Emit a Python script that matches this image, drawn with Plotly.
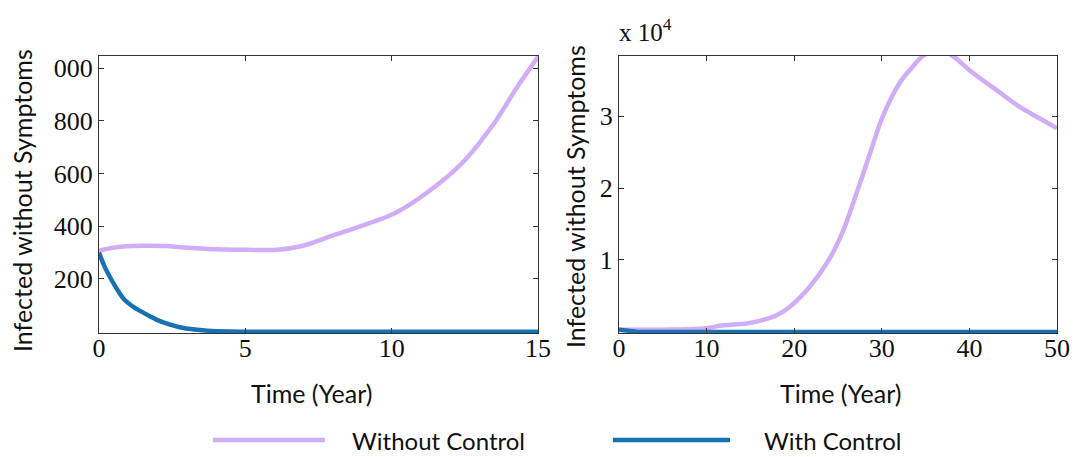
import plotly.graph_objects as go

# ---- data ----
t_left_wo = [0, 0.45, 0.9, 1.5, 2.3, 2.8, 3.7, 5.0, 6.1, 6.9, 8.0, 9.2, 10.1, 11.25, 12.4, 13.5, 14.3, 15.0]
v_left_wo = [307, 318, 324, 326, 325, 320, 314, 311, 311, 324, 365, 410, 449, 531, 639, 791, 930, 1043]
t_left_w = [0, 0.2, 0.43, 0.65, 0.88, 1.15, 1.45, 1.75, 2.0, 2.4, 2.8, 3.2, 3.7, 4.5, 6, 10, 15]
v_left_w = [300, 245, 196, 155, 120, 96, 76, 58, 44, 28, 16, 9, 4, 1, 0, 0, 0]

t_right_wo = [0, 5, 10, 11.5, 14.9, 17.9, 19.4, 21.7, 24.0, 25.5, 27.0, 28.6, 30.1, 32.0, 33.5, 34.7,
              36.4, 38.1, 40.0, 43.1, 45.7, 48.0, 50.0]
v_right_wo = [300, 310, 500, 870, 1245, 2260, 3410, 6180, 10100, 13790, 18850, 24620, 29920, 34530, 36830, 38350,
              39300, 38350, 36380, 33610, 31300, 29690, 28310]
t_right_w = [0, 2, 4, 10, 20, 30, 40, 50]
v_right_w = [300, 40, 4, 0, 0, 0, 0, 0]

left_yticks = [200, 400, 600, 800, 1000]
left_yticktext = ["200", "400", "600", "800", "000"]
left_xticks = [0, 5, 10, 15]
right_xticks = [0, 10, 20, 30, 40, 50]
right_yticks = [10000, 20000, 30000]
right_yticktext = ["1", "2", "3"]
legend_names = ["Without Control", "With Control"]

PURPLE = "#d0adf6"
BLUE = "#1672b3"
SERIF = "Liberation Serif, Times New Roman, serif"
SANS = "Lato, Liberation Sans, sans-serif"
W, H = 1076, 457

fig = go.Figure()
fig.add_trace(go.Scatter(x=t_left_wo, y=v_left_wo, mode="lines", line=dict(color=PURPLE, width=4.5, shape="spline"),
                         name=legend_names[0], xaxis="x", yaxis="y"))
fig.add_trace(go.Scatter(x=t_left_w, y=v_left_w, mode="lines", line=dict(color=BLUE, width=4.5, shape="spline"),
                         name=legend_names[1], xaxis="x", yaxis="y"))
fig.add_trace(go.Scatter(x=t_right_wo, y=v_right_wo, mode="lines", line=dict(color=PURPLE, width=4.5, shape="spline"),
                         name=legend_names[0], xaxis="x2", yaxis="y2"))
fig.add_trace(go.Scatter(x=t_right_w, y=v_right_w, mode="lines", line=dict(color=BLUE, width=4.5),
                         name=legend_names[1], xaxis="x2", yaxis="y2"))

ax_common = dict(showline=True, linecolor="#333333", linewidth=1.3, mirror="ticks", ticks="inside",
                 ticklen=5, tickcolor="#333333", showgrid=False, zeroline=False, automargin=False,
                 tickfont=dict(family=SERIF, size=26, color="#111111"))

fig.update_layout(
    width=W, height=H,
    margin=dict(l=0, r=0, t=0, b=0, autoexpand=False),
    paper_bgcolor="white", plot_bgcolor="white",
    showlegend=False,
    xaxis=dict(domain=[99 / W, 538 / W], range=[0, 15], tickvals=left_xticks, anchor="y",
               ticklabelstandoff=-8, **ax_common),
    yaxis=dict(domain=[1 - 333 / H, 1 - 56 / H], range=[-5, 1046], tickvals=left_yticks, ticktext=left_yticktext,
               anchor="x", **ax_common),
    xaxis2=dict(domain=[619 / W, 1057 / W], range=[0, 50], tickvals=right_xticks, anchor="y2",
                ticklabelstandoff=-8, **ax_common),
    yaxis2=dict(domain=[1 - 333 / H, 1 - 56 / H], range=[-150, 38350], tickvals=right_yticks,
                ticktext=right_yticktext, anchor="x2", **ax_common),
)

annos = [
    dict(text="Time (Year)", x=311, y=393),
    dict(text="Time (Year)", x=840, y=393),
    dict(text="Infected without Symptoms", x=22, y=201, textangle=-90),
    dict(text="Infected without Symptoms", x=575, y=197, textangle=-90),
]
for a in annos:
    fig.add_annotation(text=a["text"], x=a["x"] / W, y=1 - a["y"] / H, xref="paper", yref="paper",
                       xanchor="center", yanchor="middle", showarrow=False, textangle=a.get("textangle", 0),
                       font=dict(family=SANS, size=25, color="#111111"))
fig.add_annotation(text="x 10<sup>4</sup>", x=617 / W, y=1 - 30 / H, xref="paper", yref="paper",
                   xanchor="left", yanchor="middle", showarrow=False,
                   font=dict(family=SERIF, size=25, color="#111111"))

# manual legend (long line samples as in the reference)
legend_items = [(legend_names[0], PURPLE, 213, 325, 350), (legend_names[1], BLUE, 613, 730, 762)]
for name, col, x0, x1, xt in legend_items:
    fig.add_shape(type="line", xref="paper", yref="paper", x0=x0 / W, x1=x1 / W,
                  y0=1 - 440 / H, y1=1 - 440 / H, line=dict(color=col, width=4.5))
    fig.add_annotation(text=name, x=xt / W, y=1 - 440 / H, xref="paper", yref="paper",
                       xanchor="left", yanchor="middle", showarrow=False,
                       font=dict(family=SANS, size=24, color="#111111"))

fig.write_html("out.html")
